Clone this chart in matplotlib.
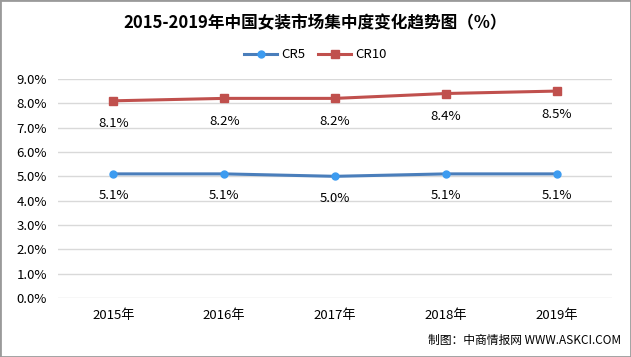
import numpy as np
import matplotlib
matplotlib.use('Agg')
from matplotlib import pyplot as plt
from matplotlib.patches import Rectangle

plt.rcParams['font.family'] = ['Noto Sans CJK SC', 'DejaVu Sans']

# Data
years = ['2015年', '2016年', '2017年', '2018年', '2019年']
cr5 = [5.1, 5.1, 5.0, 5.1, 5.1]
cr10 = [8.1, 8.2, 8.2, 8.4, 8.5]
yticks = np.arange(0, 9.5, 1.0)

fig = plt.figure(figsize=(6.31, 3.57), dpi=100)
ax = fig.add_axes([0.092, 0.165, 0.878, 0.614])

x = np.arange(len(years))
ax.plot(x, cr5, color='#4a7ebb', lw=2.2, marker='o', ms=5,
        mfc='#3c9bf0', mec='#3c9bf0', label='CR5', zorder=3)
ax.plot(x, cr10, color='#c0504d', lw=2.2, marker='s', ms=6,
        mfc='#c0504d', mec='#c0504d', label='CR10', zorder=3)

# value labels under the points
for xi, v in zip(x, cr5):
    ax.annotate('%.1f%%' % v, (xi, v), xytext=(0, -11), textcoords='offset points',
                ha='center', va='top', fontsize=9.5)
for xi, v in zip(x, cr10):
    ax.annotate('%.1f%%' % v, (xi, v), xytext=(0, -12), textcoords='offset points',
                ha='center', va='top', fontsize=9.5)

ax.set_xlim(-0.5, len(years) - 0.5)
ax.set_ylim(0, 9)
ax.set_yticks(yticks)
ax.set_yticklabels(['%.1f%%' % t for t in yticks], fontsize=9.5)
ax.set_xticks(x)
ax.set_xticklabels(years, fontsize=9.5)
ax.tick_params(length=0, pad=8)
ax.yaxis.grid(True, color='#d9d9d9', lw=1)
ax.set_axisbelow(True)
for s in ax.spines.values():
    s.set_visible(False)

fig.text(0.5, 0.935, '2015-2019年中国女装市场集中度变化趋势图（%）',
         ha='center', va='center', fontsize=12, fontweight='bold')
fig.legend(loc='center', bbox_to_anchor=(0.5, 0.846), ncol=2, frameon=False,
           fontsize=9.5, handlelength=2.5, columnspacing=1.0, handletextpad=0.3)
fig.text(0.985, 0.045, '制图：中商情报网 WWW.ASKCI.COM', ha='right', va='center',
         fontsize=8.5)

fig.patches.append(Rectangle((0, 0), 1, 1, transform=fig.transFigure,
                             fill=False, ec='#9a9a9a', lw=2))

fig.savefig('out.png', dpi=100)
